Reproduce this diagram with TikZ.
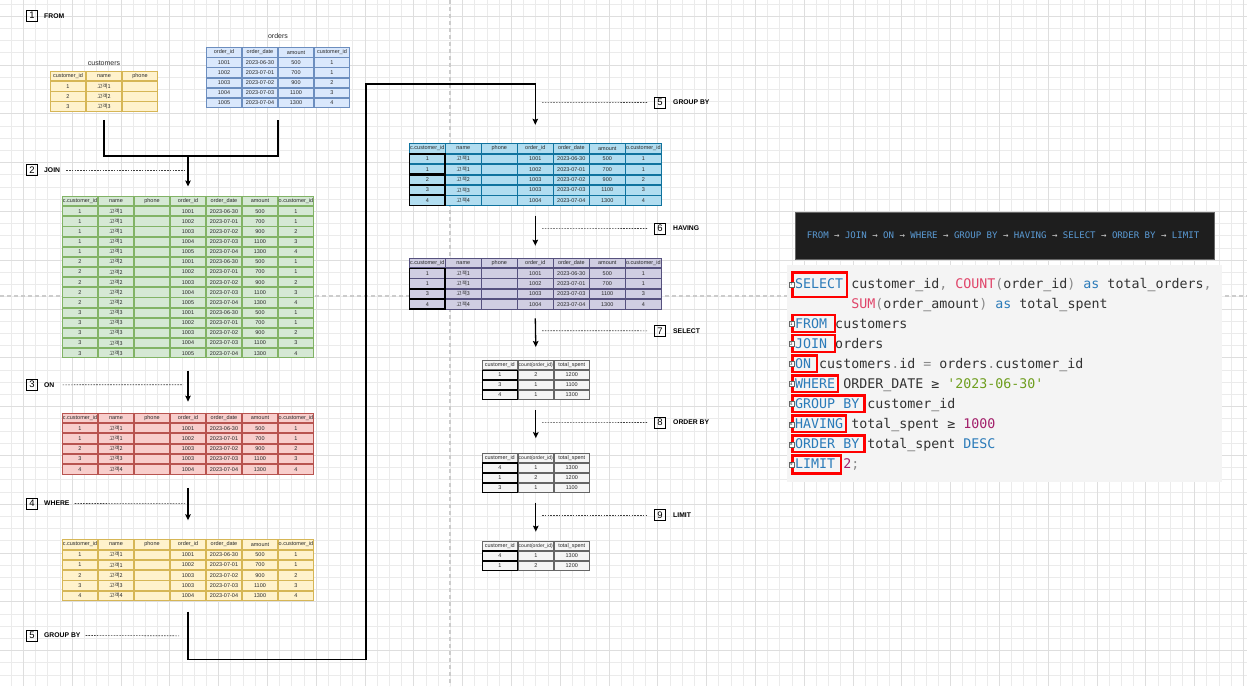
\documentclass[tikz,border=0pt]{standalone}
\usepackage{fontspec}
\setmainfont{Liberation Sans}
\newfontfamily\kr{Noto Sans CJK KR}
\newfontfamily\codefont{DejaVu Sans Mono}
\usetikzlibrary{matrix,arrows.meta}
\definecolor{ylwd}{HTML}{D6B656}\definecolor{ylwf}{HTML}{FFF2CC}
\definecolor{blud}{HTML}{6C8EBF}\definecolor{bluf}{HTML}{DAE8FC}
\definecolor{grnd}{HTML}{82B366}\definecolor{grnf}{HTML}{D5E8D4}
\definecolor{redd}{HTML}{B85450}\definecolor{redf}{HTML}{F8CECC}
\definecolor{lbld}{HTML}{10739E}\definecolor{lblf}{HTML}{B1DDF0}
\definecolor{purd}{HTML}{56517E}\definecolor{purf}{HTML}{D0CEE2}
\definecolor{gryd}{HTML}{666666}\definecolor{gryf}{HTML}{F5F5F5}
\definecolor{tabtxt}{HTML}{2A2A2A}
\definecolor{gridmin}{HTML}{EBEBEB}\definecolor{gridmaj}{HTML}{DEDEDE}
\definecolor{pbreak}{HTML}{CCCCCC}
\definecolor{kwc}{HTML}{2B7BB9}\definecolor{fnc}{HTML}{E0456A}
\definecolor{numc}{HTML}{A3206B}\definecolor{strc}{HTML}{6E9E1E}
\definecolor{punc}{HTML}{8A8A8A}\definecolor{idc}{HTML}{333333}
\definecolor{codebg}{HTML}{F4F4F4}\definecolor{darkbg}{HTML}{1E1E1E}
\definecolor{flowc}{HTML}{5B9BD5}\definecolor{flowarr}{HTML}{D0D0D0}
\newcommand\tblfont{\fontsize{5.5}{6}\selectfont}
\newcommand\cntid{{\fontsize{5.05}{6}\selectfont count(order\_id)}}
\newcommand\kca{{\kr 고객1}}
\newcommand\kcb{{\kr 고객2}}
\newcommand\kcc{{\kr 고객3}}
\newcommand\kcd{{\kr 고객4}}
\newcommand\ckw[1]{\textcolor{kwc}{#1}}
\newcommand\cfn[1]{\textcolor{fnc}{#1}}
\newcommand\cnum[1]{\textcolor{numc}{#1}}
\newcommand\cstr[1]{\textcolor{strc}{#1}}
\newcommand\cpun[1]{\textcolor{punc}{#1}}
\newcommand\farr{\textcolor{flowarr}{→}}
\tikzset{
  tbl/.style n args={3}{matrix of nodes, nodes in empty cells, inner sep=0pt, outer sep=0pt,
    column sep=0pt, row sep=0pt, anchor=north west,
    nodes={draw=#1, fill=#2, line width=0.8pt, minimum width=35.2pt, minimum height=#3,
      inner sep=0pt, outer sep=0pt, anchor=center, font=\tblfont, text=tabtxt}},
  grp/.style={draw=black, line width=1.4pt},
  conn/.style={draw=black, line width=1.3pt},
  arr/.style={conn, -{Stealth[length=6pt,width=5.5pt,inset=1pt]}},
  dsh/.style={draw=black!75, line width=0.6pt, dash pattern=on 1.6pt off 1.2pt},
  numbox/.style={draw=black, line width=0.7pt, minimum size=11pt, inner sep=0pt, font=\fontsize{9.5}{10}\selectfont},
  steplbl/.style={anchor=west, inner sep=0pt, font=\bfseries\fontsize{6.8}{8}\selectfont},
  ttl/.style={inner sep=0pt, font=\fontsize{7}{8}\selectfont, text=black!85},
  codeln/.style={anchor=base west, inner sep=0pt, text=idc, font={\codefont\fontsize{13.3}{16}\selectfont}},
  redbox/.style={draw=red, line width=2.4pt},
  icon/.style={draw=black!60, fill=white, line width=0.4pt, minimum size=5pt, inner sep=0pt, font=\fontsize{3.8}{4}\selectfont},
  gminor/.style={draw=gridmin, line width=0.5pt},
  gmajor/.style={draw=gridmaj, line width=0.6pt},
}
\begin{document}
\begin{tikzpicture}[x=1pt,y=-1pt]
\useasboundingbox (0,0) rectangle (1247,686);
\fill[white] (0,0) rectangle (1247,686);
% background grid
\foreach \i in {0,...,102} {\draw[gminor] ({11.1+\i*12.2},0) -- ({11.1+\i*12.2},686);}
\foreach \j in {0,...,56} {\draw[gminor] (0,{3.9+\j*12.2}) -- (1247,{3.9+\j*12.2});}
\foreach \i in {0,...,25} {\draw[gmajor] ({23.3+\i*48.8},0) -- ({23.3+\i*48.8},686);}
\foreach \j in {0,...,13} {\draw[gmajor] (0,{16.1+\j*48.8}) -- (1247,{16.1+\j*48.8});}
\draw[pbreak, line width=1.1pt, dash pattern=on 4pt off 3pt] (450,0) -- (450,686);
\draw[pbreak, line width=1.1pt, dash pattern=on 4pt off 3pt] (0,296) -- (1247,296);

% ---------- step labels (left) ----------
\node[numbox] (n1) at (32,15.7) {1};
\node[steplbl] (l1) at (44,16) {FROM};
\node[numbox] (n2) at (32,170) {2};
\node[steplbl] (l2) at (44,170) {JOIN};
\node[numbox] (n3) at (32,384.5) {3};
\node[steplbl] (l3) at (44,384.8) {ON};
\node[numbox] (n4) at (32,503.5) {4};
\node[steplbl] (l4) at (44,503.5) {WHERE};
\node[numbox] (n5) at (32,635.5) {5};
\node[steplbl] (l5) at (44,635.5) {GROUP BY};
\coordinate (d2) at (184,170);
\coordinate (d3) at (183,384.7);
\coordinate (d4) at (185,503.3);
\coordinate (d5) at (179,635.8);
\draw[dsh] ([xshift=6pt]l2.east) -- (d2);
\draw[dsh] ([xshift=8pt]l3.east) -- (d3);
\draw[dsh] ([xshift=5pt]l4.east) -- (d4);
\draw[dsh] ([xshift=5pt]l5.east) -- (d5);

% ---------- step labels (right) ----------
\node[numbox] (n5r) at (660,102.5) {5};
\node[steplbl] (l5r) at (673,102.5) {GROUP BY};
\node[numbox] (n6) at (660,228.5) {6};
\node[steplbl] (l6) at (673,228.5) {HAVING};
\node[numbox] (n7) at (660,330.8) {7};
\node[steplbl] (l7) at (673,330.8) {SELECT};
\node[numbox] (n8) at (660,422.5) {8};
\node[steplbl] (l8) at (673,422.5) {ORDER BY};
\node[numbox] (n9) at (660,515.3) {9};
\node[steplbl] (l9) at (673,515.3) {LIMIT};
\coordinate (e5) at (542,102.3);
\coordinate (e6) at (542,228.3);
\coordinate (e7) at (542,330.7);
\coordinate (e8) at (542,422.3);
\coordinate (e9) at (542,515.3);
\draw[dsh] (e5) -- ([xshift=-6pt]n5r.west);
\draw[dsh] (e6) -- ([xshift=-6pt]n6.west);
\draw[dsh] (e7) -- ([xshift=-6pt]n7.west);
\draw[dsh] (e8) -- ([xshift=-6pt]n8.west);
\draw[dsh] (e9) -- ([xshift=-6pt]n9.west);

% ---------- FROM ----------
\node[ttl] (tcust) at (104,63) {customers};
\node[ttl] (tord) at (278,36) {orders};
\matrix (cust) [tbl={ylwd}{ylwf}{9.35pt}] at (50,71) {
customer\_id & name & phone \\
1 & \kca & \\
2 & \kcb & \\
3 & \kcc & \\
};
\matrix (ord) [tbl={blud}{bluf}{9.27pt}] at (206,47.3) {
order\_id & order\_date & amount & customer\_id \\
1001 & 2023-06-30 & 500 & 1 \\
1002 & 2023-07-01 & 700 & 1 \\
1003 & 2023-07-02 & 900 & 2 \\
1004 & 2023-07-03 & 1100 & 3 \\
1005 & 2023-07-04 & 1300 & 4 \\
};

% ---------- JOIN ----------
\matrix (join) [tbl={grnd}{grnf}{9.34pt}] at (62,196) {
c.customer\_id & name & phone & order\_id & order\_date & amount & o.customer\_id \\
1 & \kca & & 1001 & 2023-06-30 & 500 & 1 \\
1 & \kca & & 1002 & 2023-07-01 & 700 & 1 \\
1 & \kca & & 1003 & 2023-07-02 & 900 & 2 \\
1 & \kca & & 1004 & 2023-07-03 & 1100 & 3 \\
1 & \kca & & 1005 & 2023-07-04 & 1300 & 4 \\
2 & \kcb & & 1001 & 2023-06-30 & 500 & 1 \\
2 & \kcb & & 1002 & 2023-07-01 & 700 & 1 \\
2 & \kcb & & 1003 & 2023-07-02 & 900 & 2 \\
2 & \kcb & & 1004 & 2023-07-03 & 1100 & 3 \\
2 & \kcb & & 1005 & 2023-07-04 & 1300 & 4 \\
3 & \kcc & & 1001 & 2023-06-30 & 500 & 1 \\
3 & \kcc & & 1002 & 2023-07-01 & 700 & 1 \\
3 & \kcc & & 1003 & 2023-07-02 & 900 & 2 \\
3 & \kcc & & 1004 & 2023-07-03 & 1100 & 3 \\
3 & \kcc & & 1005 & 2023-07-04 & 1300 & 4 \\
};

% ---------- ON ----------
\matrix (on) [tbl={redd}{redf}{9.47pt}] at (62,412.7) {
c.customer\_id & name & phone & order\_id & order\_date & amount & o.customer\_id \\
1 & \kca & & 1001 & 2023-06-30 & 500 & 1 \\
1 & \kca & & 1002 & 2023-07-01 & 700 & 1 \\
2 & \kcb & & 1003 & 2023-07-02 & 900 & 2 \\
3 & \kcc & & 1003 & 2023-07-03 & 1100 & 3 \\
4 & \kcd & & 1004 & 2023-07-04 & 1300 & 4 \\
};

% ---------- WHERE ----------
\matrix (where) [tbl={ylwd}{ylwf}{9.48pt}] at (62,539.3) {
c.customer\_id & name & phone & order\_id & order\_date & amount & o.customer\_id \\
1 & \kca & & 1001 & 2023-06-30 & 500 & 1 \\
1 & \kca & & 1002 & 2023-07-01 & 700 & 1 \\
2 & \kcb & & 1003 & 2023-07-02 & 900 & 2 \\
3 & \kcc & & 1003 & 2023-07-03 & 1100 & 3 \\
4 & \kcd & & 1004 & 2023-07-04 & 1300 & 4 \\
};

% ---------- GROUP BY ----------
\matrix (gb) [tbl={lbld}{lblf}{9.6pt}] at (409.3,143.3) {
c.customer\_id & name & phone & order\_id & order\_date & amount & o.customer\_id \\
1 & \kca & & 1001 & 2023-06-30 & 500 & 1 \\
1 & \kca & & 1002 & 2023-07-01 & 700 & 1 \\
2 & \kcb & & 1003 & 2023-07-02 & 900 & 2 \\
3 & \kcc & & 1003 & 2023-07-03 & 1100 & 3 \\
4 & \kcd & & 1004 & 2023-07-04 & 1300 & 4 \\
};
\draw[grp] (gb-2-1.north west) rectangle (gb-3-1.south east);
\draw[grp] (gb-4-1.north west) rectangle (gb-4-1.south east);
\draw[grp] (gb-5-1.north west) rectangle (gb-5-1.south east);
\draw[grp] (gb-6-1.north west) rectangle (gb-6-1.south east);

% ---------- HAVING ----------
\matrix (hav) [tbl={purd}{purf}{9.52pt}] at (409.3,257.7) {
c.customer\_id & name & phone & order\_id & order\_date & amount & o.customer\_id \\
1 & \kca & & 1001 & 2023-06-30 & 500 & 1 \\
1 & \kca & & 1002 & 2023-07-01 & 700 & 1 \\
3 & \kcc & & 1003 & 2023-07-03 & 1100 & 3 \\
4 & \kcd & & 1004 & 2023-07-04 & 1300 & 4 \\
};
\draw[grp] (hav-2-1.north west) rectangle (hav-3-1.south east);
\draw[grp] (hav-4-1.north west) rectangle (hav-4-1.south east);
\draw[grp] (hav-5-1.north west) rectangle (hav-5-1.south east);

% ---------- SELECT ----------
\matrix (sel) [tbl={gryd}{gryf}{9.2pt}] at (481.8,360) {
customer\_id & \cntid & total\_spent \\
1 & 2 & 1200 \\
3 & 1 & 1100 \\
4 & 1 & 1300 \\
};
\foreach \r in {2,3,4} {\draw[grp] (sel-\r-1.north west) rectangle (sel-\r-1.south east);}

% ---------- ORDER BY ----------
\matrix (obt) [tbl={gryd}{gryf}{9.2pt}] at (481.8,452.7) {
customer\_id & \cntid & total\_spent \\
4 & 1 & 1300 \\
1 & 2 & 1200 \\
3 & 1 & 1100 \\
};
\foreach \r in {2,3,4} {\draw[grp] (obt-\r-1.north west) rectangle (obt-\r-1.south east);}

% ---------- LIMIT ----------
\matrix (lim) [tbl={gryd}{gryf}{9.2pt}] at (481.8,540.7) {
customer\_id & \cntid & total\_spent \\
4 & 1 & 1300 \\
1 & 2 & 1200 \\
};
\foreach \r in {2,3} {\draw[grp] (lim-\r-1.north west) rectangle (lim-\r-1.south east);}

% ---------- connectors ----------
\coordinate (j1) at (join.north |- 0,156);
\draw[conn] ([yshift=-8.3pt]cust.south) |- (j1);
\draw[conn] ([yshift=-12.3pt]ord.south) |- (j1);
\draw[arr] (j1) -- ([yshift=9.5pt]join.north);
\draw[arr] ([yshift=-12.5pt]join.south) -- ([yshift=11pt]on.north);
\draw[arr] ([yshift=-13.5pt]on.south) -- ([yshift=19pt]where.north);
\coordinate (b1) at (366,659.3);
\coordinate (b2) at (366,84);
\draw[arr] ([yshift=-10.7pt]where.south) |- (b1) -- (b2) -| ([yshift=18.5pt]gb.north);
\draw[arr] ([yshift=-10pt]gb.south) -- ([yshift=12pt]hav.north);
\draw[arr] ([yshift=-9pt]hav.south) -- ([yshift=13pt]sel.north);
\draw[arr] ([yshift=-10pt]sel.south) -- ([yshift=14.5pt]obt.north);
\draw[arr] ([yshift=-10pt]obt.south) -- ([yshift=9pt]lim.north);

% ---------- execution order box ----------
\node[draw=black!60, fill=darkbg, line width=0.6pt, minimum width=418.7pt, minimum height=47.3pt, inner sep=0pt, anchor=north west] (flow) at (795.3,211.7) {};
\node[anchor=west, inner sep=0pt, text=flowc, font={\codefont\fontsize{9.05}{11}\selectfont}] (flowtxt) at (806.7,235.3)
 {FROM \farr{} JOIN \farr{} ON \farr{} WHERE \farr{} GROUP BY \farr{} HAVING \farr{} SELECT \farr{} ORDER BY \farr{} LIMIT};

% ---------- SQL code ----------
\node[fill=codebg, minimum width=435pt, minimum height=217pt, inner sep=0pt, anchor=north west] (codebox) at (787,265) {};
\node[codeln] (c1) at (795,288.2) {\ckw{SELECT} customer\_id\cpun{,} \cfn{COUNT}\cpun{(}order\_id\cpun{)} \ckw{as} total\_orders\cpun{,}};
\node[codeln] (c2) at (851.1,308.2) {\cfn{SUM}\cpun{(}order\_amount\cpun{)} \ckw{as} total\_spent};
\node[codeln] (c3) at (795,328.2) {\ckw{FROM} customers};
\node[codeln] (c4) at (795,348.2) {\ckw{JOIN} orders};
\node[codeln] (c5) at (795,368.2) {\ckw{ON} customers\cpun{.}id \cpun{=} orders\cpun{.}customer\_id};
\node[codeln] (c6) at (795,388.2) {\ckw{WHERE} ORDER\_DATE ≥ \cstr{'2023-06-30'}};
\node[codeln] (c7) at (795,408.2) {\ckw{GROUP BY} customer\_id};
\node[codeln] (c8) at (795,428.2) {\ckw{HAVING} total\_spent ≥ \cnum{1000}};
\node[codeln] (c9) at (795,448.2) {\ckw{ORDER BY} total\_spent \ckw{DESC}};
\node[codeln] (c10) at (795,468.2) {\ckw{LIMIT} \cnum{2}\cpun{;}};
% red highlight boxes
\draw[redbox] (792.3,272.3) rectangle (846.7,296.7);
\draw[redbox] (792.3,315) rectangle (835,332);
\draw[redbox] (792.3,335) rectangle (835,352);
\draw[redbox] (792.3,355.3) rectangle (817,372);
\draw[redbox] (792.3,375.3) rectangle (837.7,392);
\draw[redbox] (792.3,395.3) rectangle (864.3,412);
\draw[redbox] (792.3,415.5) rectangle (846,432);
\draw[redbox] (792.3,435.5) rectangle (864.3,452);
\draw[redbox] (792.3,455.5) rectangle (841,473.3);
% small step icons
\node[icon] (i7) at (791.5,284.5) {7};
\node[icon] (i1) at (791.5,324) {1};
\node[icon] (i2) at (791.5,344) {2};
\node[icon] (i3) at (791.5,364) {3};
\node[icon] (i4) at (791.5,384) {4};
\node[icon] (i5) at (791.5,404) {5};
\node[icon] (i6) at (791.5,424.5) {6};
\node[icon] (i8) at (791.5,444.5) {8};
\node[icon] (i9) at (791.5,464.5) {9};
\end{tikzpicture}
\end{document}
